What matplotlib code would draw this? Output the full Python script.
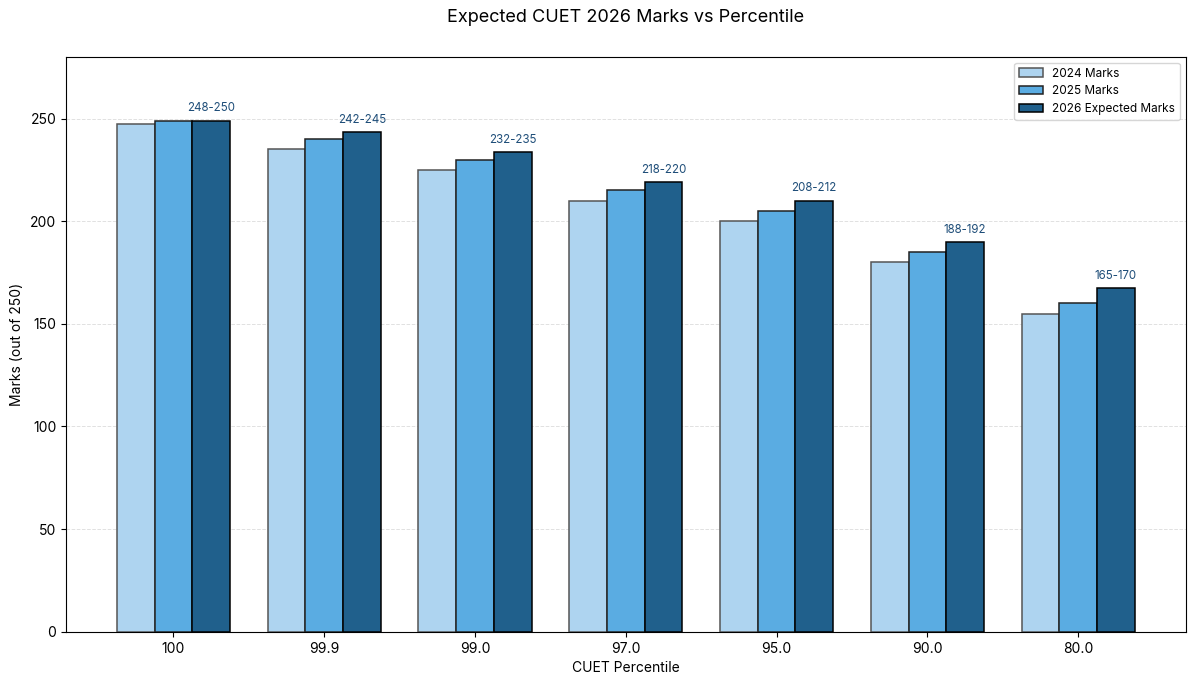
import numpy as np, matplotlib
matplotlib.use("Agg"); import matplotlib.pyplot as plt

plt.rcParams.update({"font.family": ["Inter", "DejaVu Sans"], "font.size": 10})

percentiles = ["100", "99.9", "99.0", "97.0", "95.0", "90.0", "80.0"]
marks_2024 = [247.5, 235, 225, 210, 200, 180, 155]
marks_2025 = [249, 240, 230, 215, 205, 185, 160]
marks_2026 = [249, 243.5, 233.5, 219, 210, 190, 167.5]
ranges_2026 = ["248-250", "242-245", "232-235", "218-220", "208-212", "188-192", "165-170"]

C24 = "#aed4f0"; C25 = "#5aace2"; C26 = "#20608c"; LAB = "#1f4e79"

x = np.arange(len(percentiles)); w = 0.25
fig, ax = plt.subplots(figsize=(12, 6.86), dpi=100)
ax.bar(x - w, marks_2024, w, color=C24, edgecolor="#555555", linewidth=1.1, label="2024 Marks", zorder=3)
ax.bar(x, marks_2025, w, color=C25, edgecolor="#222222", linewidth=1.1, label="2025 Marks", zorder=3)
ax.bar(x + w, marks_2026, w, color=C26, edgecolor="black", linewidth=1.1, label="2026 Expected Marks", zorder=3)
for xi, v, t in zip(x, marks_2026, ranges_2026):
    ax.text(xi + w, v + 3, t, ha="center", va="bottom", fontsize=8.3, color=LAB)

ax.set_ylim(0, 280)
ax.set_xticks(x); ax.set_xticklabels(percentiles)
ax.yaxis.grid(True, linestyle="--", color="#cccccc", alpha=0.6, linewidth=0.7, zorder=0)
ax.set_axisbelow(True)
ax.set_xlabel("CUET Percentile", fontsize=10)
ax.set_ylabel("Marks (out of 250)", fontsize=10)
ax.set_title("Expected CUET 2026 Marks vs Percentile", fontsize=13, pad=25)
ax.legend(loc="upper right", fontsize=8.5)
fig.subplots_adjust(left=0.055, right=0.988, top=0.917, bottom=0.079)
fig.savefig("out.png", dpi=100)
